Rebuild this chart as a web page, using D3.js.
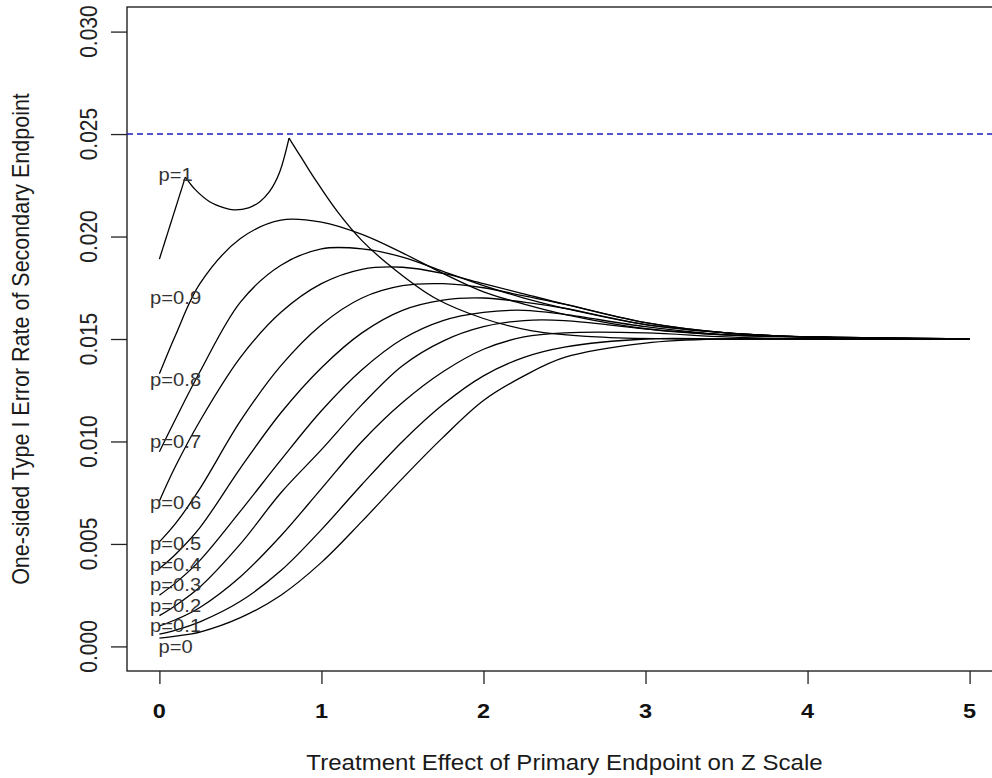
<!DOCTYPE html>
<html>
<head>
<meta charset="utf-8">
<script src="https://cdn.jsdelivr.net/npm/d3@7"></script>
<style>
  body { margin: 0; background: #fff; }
  text { font-family: "Liberation Sans", Arial, sans-serif; }
</style>
</head>
<body>
<div id="chart"></div>
<script>
// chart size
var svg_w = 992;
var svg_h = 778;

// axis ticks
var x_ticks = [0, 1, 2, 3, 4, 5];
var y_ticks = [0, 0.005, 0.010, 0.015, 0.020, 0.025, 0.030];
var alpha_line = 0.025;

// treatment effect grid for the p=0 ... p=0.9 curves
var theta = [0, 0.1, 0.25, 0.5, 0.75, 1, 1.25, 1.5, 1.75, 2, 2.25, 2.5, 3, 3.5, 4, 5];

// error rate, one array per correlation
var p00 = [0.0004, 0.0005, 0.0007, 0.0014, 0.0025, 0.0041, 0.0061, 0.0082, 0.0102, 0.0120, 0.0132, 0.0141, 0.0148, 0.0150, 0.0150, 0.0150];
var p01 = [0.0006, 0.0008, 0.0012, 0.0022, 0.0037, 0.0057, 0.0079, 0.0100, 0.0118, 0.0132, 0.0141, 0.0146, 0.0150, 0.0150, 0.0150, 0.0150];
var p02 = [0.0010, 0.0013, 0.0019, 0.0034, 0.0054, 0.0077, 0.0100, 0.0119, 0.0134, 0.0145, 0.0151, 0.0153, 0.0153, 0.0151, 0.0150, 0.0150];
var p03 = [0.0015, 0.0020, 0.0029, 0.0050, 0.0075, 0.0096, 0.0118, 0.0137, 0.0149, 0.0156, 0.0159, 0.0159, 0.0155, 0.0152, 0.0151, 0.0150];
var p04 = [0.0025, 0.0031, 0.0042, 0.0066, 0.0091, 0.0115, 0.0135, 0.0150, 0.0159, 0.0163, 0.0164, 0.0162, 0.0156, 0.0152, 0.0151, 0.0150];
var p05 = [0.0038, 0.0045, 0.0058, 0.0087, 0.0114, 0.0136, 0.0153, 0.0164, 0.0169, 0.0170, 0.0168, 0.0165, 0.0157, 0.0153, 0.0151, 0.0150];
var p06 = [0.0051, 0.0060, 0.0077, 0.0110, 0.0137, 0.0157, 0.0170, 0.0176, 0.0177, 0.0175, 0.0171, 0.0167, 0.0158, 0.0153, 0.0151, 0.0150];
var p07 = [0.0071, 0.0088, 0.0110, 0.0141, 0.0163, 0.0177, 0.0184, 0.0185, 0.0182, 0.0177, 0.0172, 0.0167, 0.0158, 0.0153, 0.0151, 0.0150];
var p08 = [0.0095, 0.0111, 0.0134, 0.0168, 0.0186, 0.0194, 0.0194, 0.0190, 0.0183, 0.0176, 0.0170, 0.0165, 0.0157, 0.0153, 0.0151, 0.0150];
var p09 = [0.0133, 0.0152, 0.0177, 0.0199, 0.0208, 0.0207, 0.0201, 0.0192, 0.0182, 0.0173, 0.0167, 0.0162, 0.0155, 0.0152, 0.0151, 0.0150];

// p=1 has its own grid (two sharp corners)
var theta_p1 = [0, 0.16, 0.22, 0.31, 0.40, 0.46, 0.55, 0.62, 0.68, 0.74, 0.80, 0.88, 0.96, 1.1, 1.25, 1.45, 1.7, 2.0, 2.3, 2.7, 3.2, 4, 5];
var p10 = [0.0189, 0.0229, 0.0223, 0.0217, 0.0214, 0.0213, 0.0214, 0.0217, 0.0222, 0.0231, 0.0248, 0.0238, 0.0228, 0.0212, 0.0198, 0.0184, 0.0170, 0.0160, 0.0154, 0.0151, 0.0150, 0.0150, 0.0150];
var p1_corners = [0.16, 0.80];

var curves = [p00, p01, p02, p03, p04, p05, p06, p07, p08, p09];

// labels at the left of the curves
var label_names = ["p=0", "p=0.1", "p=0.2", "p=0.3", "p=0.4", "p=0.5", "p=0.6", "p=0.7", "p=0.8", "p=0.9", "p=1"];
var label_y = [0, 0.001, 0.002, 0.003, 0.004, 0.005, 0.007, 0.010, 0.013, 0.017, 0.023];
var label_x = 0.1;

var svg = d3.select("#chart")
	.append("svg")
	.attr("width", svg_w)
	.attr("height", svg_h);

// R style scales with 4% padding
var x = d3.scaleLinear()
	.domain([-0.2, 5.2])
	.range([127, 1002]);

var y = d3.scaleLinear()
	.domain([-0.0012, 0.0312])
	.range([671, 7]);

var stretch = 1.12; // text in the picture is a bit wider than tall

// box
svg.append("rect")
	.attr("x", x(-0.2))
	.attr("y", y(0.0312))
	.attr("width", x(5.2) - x(-0.2))
	.attr("height", y(-0.0012) - y(0.0312))
	.attr("fill", "none")
	.attr("stroke", "#111")
	.attr("stroke-width", 1.3);

// y axis
var y_axis = d3.axisLeft(y)
	.tickValues(y_ticks)
	.tickSize(16)
	.tickFormat("");
var gy = svg.append("g")
	.attr("transform", "translate(" + x(-0.2) + ",0)")
	.call(y_axis);
gy.select(".domain").remove();
gy.selectAll("line").attr("stroke", "#222").attr("stroke-width", 1.3);

svg.selectAll(".ylab")
	.data(y_ticks)
	.enter()
	.append("text")
	.attr("class", "ylab")
	.attr("transform", function(d) {
		return "translate(97," + y(d) + ") scale(" + stretch + ",1) rotate(-90)";
	})
	.attr("text-anchor", "middle")
	.attr("font-size", "21px")
	.attr("fill", "#222")
	.text(d3.format(".3f"));

// x axis
var x_axis = d3.axisBottom(x)
	.tickValues(x_ticks)
	.tickSize(13)
	.tickFormat("");
var gx = svg.append("g")
	.attr("transform", "translate(0," + y(-0.0012) + ")")
	.call(x_axis);
gx.select(".domain").remove();
gx.selectAll("line").attr("stroke", "#222").attr("stroke-width", 1.3);

svg.selectAll(".xlab")
	.data(x_ticks)
	.enter()
	.append("text")
	.attr("class", "xlab")
	.attr("transform", function(d) {
		return "translate(" + x(d) + ",718) scale(" + stretch + ",1)";
	})
	.attr("text-anchor", "middle")
	.attr("font-size", "21px")
	.attr("font-weight", "bold")
	.attr("fill", "#111")
	.text(function(d) { return d; });

// axis titles
svg.append("text")
	.attr("transform", "translate(" + ((x(-0.2) + x(5.2)) / 2) + ",770) scale(" + stretch + ",1)")
	.attr("text-anchor", "middle")
	.attr("font-size", "21.5px")
	.attr("fill", "#1a1a1a")
	.text("Treatment Effect of Primary Endpoint on Z Scale");

svg.append("text")
	.attr("transform", "translate(29," + ((y(-0.0012) + y(0.0312)) / 2) + ") scale(" + stretch + ",1) rotate(-90)")
	.attr("text-anchor", "middle")
	.attr("font-size", "21.5px")
	.attr("fill", "#1a1a1a")
	.text("One-sided Type I Error Rate of Secondary Endpoint");

// dashed alpha line
svg.append("line")
	.attr("x1", x(-0.2))
	.attr("x2", x(5.2))
	.attr("y1", y(alpha_line))
	.attr("y2", y(alpha_line))
	.attr("stroke", "#1c1cc0")
	.attr("stroke-width", 1.5)
	.attr("stroke-dasharray", "6,4");

// curves
var line = d3.line()
	.x(function(d) { return x(d[0]); })
	.y(function(d) { return y(d[1]); })
	.curve(d3.curveCatmullRom.alpha(0.5));

curves.forEach(function(vals) {
	var pts = theta.map(function(t, i) { return [t, vals[i]]; });
	svg.append("path")
		.attr("d", line(pts))
		.attr("fill", "none")
		.attr("stroke", "#000")
		.attr("stroke-width", 1.3);
});

// p=1 drawn in pieces so the corners stay sharp
var p1_pts = theta_p1.map(function(t, i) { return [t, p10[i]]; });
var cuts = [0].concat(p1_corners.map(function(c) { return theta_p1.indexOf(c); }), [theta_p1.length - 1]);
for (var k = 0; k < cuts.length - 1; k++) {
	svg.append("path")
		.attr("d", line(p1_pts.slice(cuts[k], cuts[k + 1] + 1)))
		.attr("fill", "none")
		.attr("stroke", "#000")
		.attr("stroke-width", 1.3);
}

// curve labels
svg.selectAll(".plab")
	.data(label_names)
	.enter()
	.append("text")
	.attr("class", "plab")
	.attr("transform", function(d, i) {
		return "translate(" + x(label_x) + "," + y(label_y[i]) + ") scale(" + stretch + ",1)";
	})
	.attr("text-anchor", "middle")
	.attr("dy", "0.35em")
	.attr("font-size", "18px")
	.attr("fill", "#333")
	.text(function(d) { return d; });
</script>
</body>
</html>
